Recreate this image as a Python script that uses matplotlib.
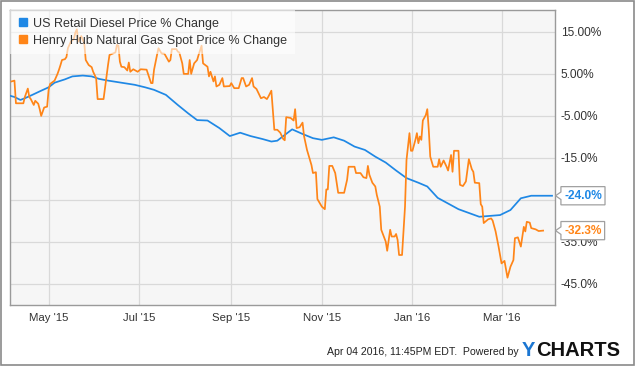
import numpy as np
import pandas as pd
import matplotlib
matplotlib.use("Agg")
import matplotlib.pyplot as plt
import matplotlib.dates as mdates
from matplotlib.lines import Line2D
from matplotlib.patches import Rectangle
from matplotlib.path import Path

plt.rcParams['font.family'] = ['Liberation Sans', 'DejaVu Sans']

# weekly retail diesel, % change
diesel_dates = ['2015-04-05', '2015-04-08', '2015-04-12', '2015-04-15', '2015-04-20', '2015-04-26',
                '2015-05-01', '2015-05-05', '2015-05-12', '2015-05-17', '2015-05-24', '2015-05-30',
                '2015-06-04', '2015-06-10', '2015-06-19', '2015-06-28',
                '2015-07-05', '2015-07-11', '2015-07-19', '2015-07-27',
                '2015-08-03', '2015-08-09', '2015-08-16', '2015-08-24', '2015-08-31',
                '2015-09-07', '2015-09-14', '2015-09-22', '2015-09-28',
                '2015-10-02', '2015-10-06', '2015-10-12', '2015-10-19', '2015-10-26',
                '2015-11-01', '2015-11-09', '2015-11-16', '2015-11-23', '2015-11-30',
                '2015-12-07', '2015-12-14', '2015-12-21', '2015-12-28',
                '2016-01-05', '2016-01-11', '2016-01-18',
                '2016-02-01', '2016-02-15', '2016-02-29',
                '2016-03-07', '2016-03-14', '2016-03-21', '2016-03-28', '2016-04-04']
diesel_pct = [-0.2, -0.5, -1.2, -0.8, 0.0, 1.0,
              1.8, 2.9, 3.7, 4.4, 4.6, 4.4,
              3.8, 3.4, 2.9, 2.4,
              1.8, 1.2, 0.0, -2.4,
              -4.4, -6.0, -6.1, -7.9, -9.8,
              -9.0, -9.8, -10.5, -11.1,
              -10.9, -9.8, -8.2, -9.3, -10.3,
              -10.7, -10.1, -10.9, -12.3, -13.1,
              -14.7, -16.1, -18.0, -19.8,
              -20.9, -21.8, -24.5,
              -27.2, -29.0, -28.6,
              -27.4, -24.6, -24.0, -24.0, -24.0]

# daily henry hub spot, % change
gas_dates = ['2015-04-06', '2015-04-08', '2015-04-09', '2015-04-14', '2015-04-15', '2015-04-17', '2015-04-18',
             '2015-04-19', '2015-04-21', '2015-04-22', '2015-04-24', '2015-04-25', '2015-04-26', '2015-04-28',
             '2015-04-30',
             '2015-05-01', '2015-05-02', '2015-05-05', '2015-05-07', '2015-05-08', '2015-05-09', '2015-05-10',
             '2015-05-12', '2015-05-13', '2015-05-14', '2015-05-16', '2015-05-18', '2015-05-19', '2015-05-20',
             '2015-05-21', '2015-05-23', '2015-05-25', '2015-05-26', '2015-05-28', '2015-05-30', '2015-05-31',
             '2015-06-02', '2015-06-03', '2015-06-07', '2015-06-09', '2015-06-10', '2015-06-11', '2015-06-15',
             '2015-06-16', '2015-06-17', '2015-06-18', '2015-06-19', '2015-06-21', '2015-06-23', '2015-06-24',
             '2015-06-25', '2015-06-27', '2015-06-30',
             '2015-07-02', '2015-07-06', '2015-07-09', '2015-07-10', '2015-07-11', '2015-07-13', '2015-07-14',
             '2015-07-16', '2015-07-18', '2015-07-21', '2015-07-22', '2015-07-23', '2015-07-26', '2015-07-27',
             '2015-07-28', '2015-07-30', '2015-07-31',
             '2015-08-03', '2015-08-04', '2015-08-05', '2015-08-07', '2015-08-09', '2015-08-10', '2015-08-12',
             '2015-08-13', '2015-08-16', '2015-08-17', '2015-08-18', '2015-08-20', '2015-08-21', '2015-08-22',
             '2015-08-24', '2015-08-26', '2015-08-27', '2015-08-31',
             '2015-09-01', '2015-09-03', '2015-09-06', '2015-09-08', '2015-09-09', '2015-09-11', '2015-09-13',
             '2015-09-15', '2015-09-16', '2015-09-18', '2015-09-21', '2015-09-23', '2015-09-25', '2015-09-26',
             '2015-09-28', '2015-09-30',
             '2015-10-02', '2015-10-04', '2015-10-06', '2015-10-07', '2015-10-08', '2015-10-11', '2015-10-13',
             '2015-10-14', '2015-10-15', '2015-10-17', '2015-10-19', '2015-10-20', '2015-10-22', '2015-10-25',
             '2015-10-26', '2015-10-28', '2015-10-29',
             '2015-11-01', '2015-11-03', '2015-11-04', '2015-11-05', '2015-11-06', '2015-11-08', '2015-11-10',
             '2015-11-12', '2015-11-16', '2015-11-18', '2015-11-19', '2015-11-23', '2015-11-24', '2015-11-27',
             '2015-11-29',
             '2015-12-01', '2015-12-02', '2015-12-03', '2015-12-05', '2015-12-07', '2015-12-08', '2015-12-10',
             '2015-12-11', '2015-12-14', '2015-12-15', '2015-12-17', '2015-12-18', '2015-12-20', '2015-12-21',
             '2015-12-22', '2015-12-23', '2015-12-25', '2015-12-27', '2015-12-28', '2015-12-30', '2015-12-31',
             '2016-01-01', '2016-01-03', '2016-01-04', '2016-01-05', '2016-01-06', '2016-01-07', '2016-01-08',
             '2016-01-10', '2016-01-11', '2016-01-12', '2016-01-13', '2016-01-15', '2016-01-18', '2016-01-19',
             '2016-01-20', '2016-01-22', '2016-01-24', '2016-01-25', '2016-01-27', '2016-01-28', '2016-01-29',
             '2016-02-01', '2016-02-02', '2016-02-04', '2016-02-06', '2016-02-08', '2016-02-10', '2016-02-11',
             '2016-02-12', '2016-02-15', '2016-02-16', '2016-02-17', '2016-02-18', '2016-02-21', '2016-02-23',
             '2016-02-24', '2016-02-26', '2016-02-28',
             '2016-03-01', '2016-03-03', '2016-03-05', '2016-03-07', '2016-03-09', '2016-03-10', '2016-03-12',
             '2016-03-14', '2016-03-16', '2016-03-17', '2016-03-18', '2016-03-20', '2016-03-21', '2016-03-24',
             '2016-03-26', '2016-03-29']
gas_pct = [3.2, 3.4, -2.0, -2.0, -0.5, 1.5, -0.5, -1.0, -2.4, -1.4, -2.1, -3.4, -5.0, -3.0, -2.8,
           1.2, 2.6, 3.4, 5.0, 6.0, 7.1, 8.3, 8.5, 9.0, 11.1, 12.7, 13.3, 14.8, 15.6, 12.7, 14.0, 12.3,
           8.3, 7.1, 6.6, 5.5,
           4.0, -1.0, -1.0, 4.4, 7.1, 9.5, 10.1, 11.9, 11.7, 7.9, 6.7, 6.6, 5.8, 7.7, 5.5, 6.1, 5.5,
           6.1, 6.0, 2.8, 2.8, 6.0, 9.5, 11.1, 9.9, 9.8, 7.9, 8.3, 10.9, 10.9, 10.3, 10.1, 7.5, 5.0,
           5.0, 8.3, 5.0, 7.5, 8.3, 9.5, 11.7, 7.5, 6.7, 4.4, 5.5, 3.2, 4.4, 2.0, 2.4, 4.0, 2.0, 2.1,
           2.8, 1.6, 1.6, 4.0, 4.0, 2.0, 2.4, 4.0, 2.0, 1.4, -0.8, -0.5, -1.0, -0.4, 1.0, -8.3,
           -8.3, -9.0, -10.5, -10.8, -5.3, -5.5, -6.1, -3.4, -7.9, -7.7, -6.6, -9.8, -13.1, -16.7,
           -18.6, -18.4, -24.8,
           -26.6, -27.2, -22.5, -22.5, -16.9, -16.9, -18.6, -23.3, -23.3, -20.2, -17.1, -17.1, -18.6,
           -18.6, -19.6,
           -19.8, -16.9, -19.0, -20.9, -21.8, -23.8, -26.6, -32.1, -34.9, -37.1, -32.1, -33.7, -33.7,
           -33.1, -34.5, -38.1, -38.1, -26.6, -15.5, -9.1, -13.3,
           -13.3, -10.7, -9.1, -11.5, -9.9, -10.7, -6.1, -4.8, -3.4, -8.3, -14.7, -17.1, -17.1, -15.3,
           -17.1, -15.6, -17.1, -18.0, -14.3, -18.3, -13.3,
           -13.3, -21.4, -21.7, -20.6, -15.3, -17.7, -18.3, -20.9, -21.0, -26.0, -26.6, -30.5, -29.6,
           -29.4, -29.9, -32.5, -36.1,
           -40.1, -39.5, -43.5, -40.9, -39.3, -34.1, -33.9, -36.1, -31.4, -32.5, -30.2, -30.4, -31.7,
           -32.0, -32.4, -32.3]

series_names = ['US Retail Diesel Price % Change', 'Henry Hub Natural Gas Spot Price % Change']
y_ticks = [15, 5, -5, -15, -25, -35, -45]
# the -25% label sits under the diesel end tag in the original, so it is left blank
y_tick_labels = ['15.00%', '5.00%', '-5.00%', '-15.0%', '', '-35.0%', '-45.0%']
x_ticks = ['2015-05-01', '2015-07-01', '2015-09-01', '2015-11-01', '2016-01-01', '2016-03-01']

blue = '#1f88e5'
orange = '#ff8518'
grid_c = '#d9d9d9'
frame_c = '#9a9a9a'
text_c = '#333333'


def tag_box(x0, y0, width, height, mutation_size):
    # rectangle with a little pointer on the left side
    pad = 0.26 * mutation_size
    x0 -= pad
    y0 -= pad
    w = width + 2 * pad
    h = height + 2 * pad
    tip = 0.45 * mutation_size
    verts = [(x0, y0), (x0 + w, y0), (x0 + w, y0 + h), (x0, y0 + h),
             (x0, y0 + h / 2 + tip * 0.7), (x0 - tip, y0 + h / 2),
             (x0, y0 + h / 2 - tip * 0.7), (x0, y0)]
    return Path(verts, closed=True)


fig = plt.figure(figsize=(6.35, 3.66), dpi=100)
fig.patch.set_facecolor('white')
fig.patches.append(Rectangle((0.0008, 0.0014), 0.9984, 0.9972, transform=fig.transFigure,
                             fill=False, edgecolor='#8a8a8a', linewidth=1.2))

ax = fig.add_axes([10 / 635, 61 / 366, 545 / 635, 295 / 366])
ax.set_facecolor('#f6f6f6')

d_dates = pd.to_datetime(diesel_dates)
g_dates = pd.to_datetime(gas_dates)
ax.plot(d_dates, diesel_pct, color=blue, lw=1.25, zorder=3)
ax.plot(g_dates, gas_pct, color=orange, lw=1.25, zorder=3)

ax.set_xlim(pd.Timestamp('2015-04-05'), pd.Timestamp('2016-04-06'))
ax.set_ylim(-50, 20.2)

ax.set_xticks(pd.to_datetime(x_ticks))
ax.xaxis.set_major_formatter(mdates.DateFormatter("%b '%y"))
ax.set_yticks(y_ticks)
ax.set_yticklabels(y_tick_labels)
ax.yaxis.tick_right()
ax.tick_params(axis='y', length=0, pad=4, labelsize=8.6, labelcolor=text_c)
ax.tick_params(axis='x', length=0, pad=6, labelsize=8.2, labelcolor=text_c)
ax.grid(True, color=grid_c, lw=0.9)
ax.set_axisbelow(True)
for sp in ax.spines.values():
    sp.set_color(frame_c)
    sp.set_linewidth(1.0)

handles = [Line2D([], [], marker='s', ls='none', color=c, markersize=5.2) for c in (blue, orange)]
leg = ax.legend(handles, series_names, loc='upper left', bbox_to_anchor=(0, 1), borderaxespad=0,
                fontsize=9, frameon=True, fancybox=False, handlelength=0.8, handletextpad=0.45,
                borderpad=0.6, labelspacing=0.42)
leg.get_frame().set_facecolor('white')
leg.get_frame().set_alpha(0.6)
leg.get_frame().set_linewidth(0)
for t in leg.get_texts():
    t.set_color(text_c)

# end value tags
for vals, col in ((diesel_pct, blue), (gas_pct, orange)):
    ax.annotate('%.1f%%' % vals[-1], xy=(1, vals[-1]), xycoords=('axes fraction', 'data'),
                xytext=(6.5, 0), textcoords='offset points', va='center', ha='left',
                fontsize=8.6, fontweight='bold', color=col, annotation_clip=False, zorder=6,
                bbox=dict(boxstyle=tag_box, fc='white', ec='#a0a0a0', lw=0.9))

fig.text(519 / 635, 1 - 352 / 366, 'Apr 04 2016, 11:45PM EDT.  Powered by', ha='right', va='center',
         fontsize=7.6, color='#222222')
fig.text(522 / 635, 1 - 350 / 366, 'Y', ha='left', va='center', fontsize=14.5, fontweight='bold',
         color='#1b76d2')
fig.text(536 / 635, 1 - 350 / 366, 'CHARTS', ha='left', va='center', fontsize=14.5,
         fontweight='bold', color='#111111')

fig.savefig('out.png', dpi=100)
